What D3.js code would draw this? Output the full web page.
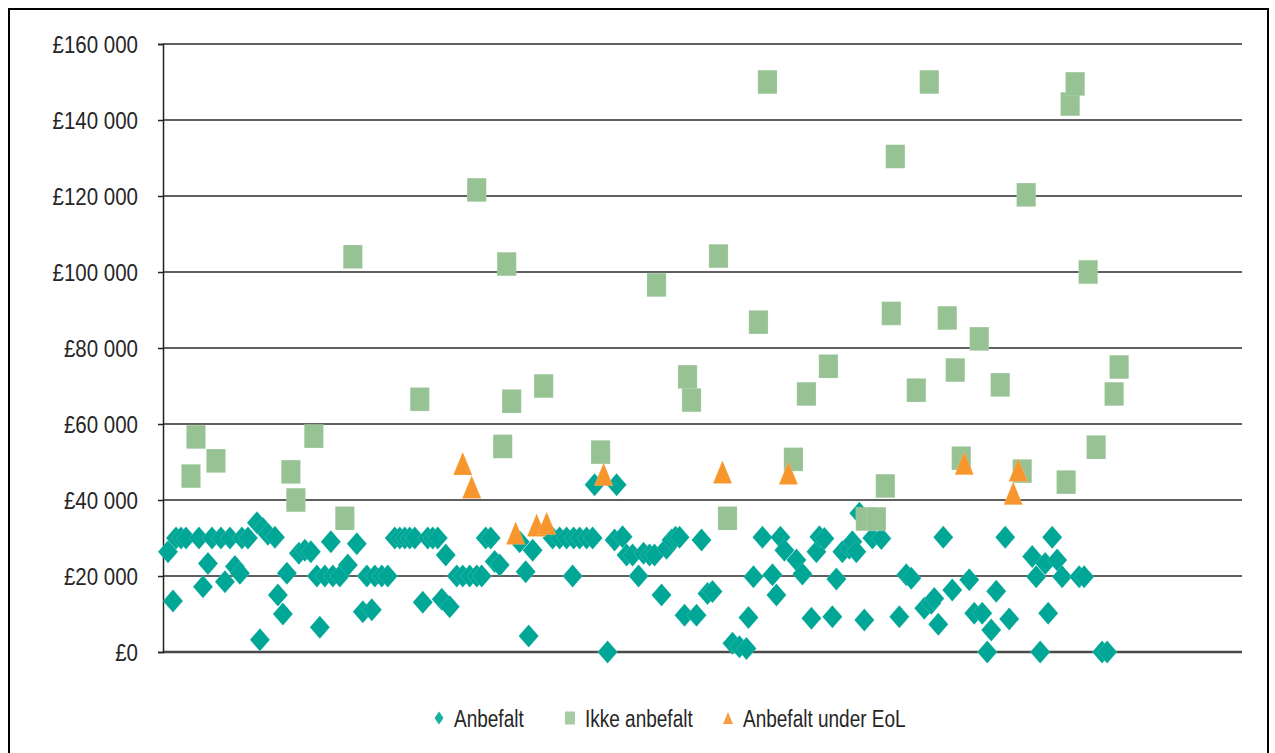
<!DOCTYPE html>
<html>
<head>
<meta charset="utf-8">
<script src="https://cdn.jsdelivr.net/npm/d3@7"></script>
<style>
  body { margin: 0; background: #fff; }
  svg { display: block; font-family: "Liberation Sans", Arial, sans-serif; }
</style>
</head>
<body>
<div id="chart"></div>
<script>
// x is the running case number, y the cost per QALY (GBP)
const anbefaltX = [1.0, 2.0, 2.6, 3.6, 4.6, 7.2, 8.0, 9.0, 9.8, 11.6, 12.4, 13.4, 14.4, 15.4, 15.8, 17.0,
  18.8, 19.4, 20.0, 21.0, 22.4, 23.0, 24.0, 24.8, 27.2, 28.4, 29.6, 30.8, 31.4, 32.4, 33.6, 34.0, 35.4,
  37.0, 38.8, 40.0, 40.8, 41.8, 42.4, 43.8, 45.0, 46.4, 47.4, 48.4, 49.4, 50.4, 52.0, 53.0, 54.0, 55.0,
  55.8, 56.6, 57.4, 58.8, 60.0, 61.4, 62.8, 63.8, 64.6, 65.6, 66.4, 67.4, 71.4, 72.6, 73.2, 74.0, 78.0,
  79.4, 80.8, 82.0, 82.2, 83.4, 84.8, 86.0, 86.4, 89.0, 90.4, 90.8, 92.0, 92.8, 94.0, 95.2, 96.2, 97.4,
  98.4, 99.8, 100.8, 101.8, 102.6, 103.4, 104.4, 106.8, 107.8, 109.0, 110.0, 114.0, 115.4, 116.8, 117.2,
  118.2, 120.0, 122.0, 122.8, 123.6, 124.4, 126.8, 128.0, 129.8, 130.8, 131.4, 132.4, 134.0, 134.8,
  136.0, 137.4, 138.0, 138.8, 139.4, 140.4, 142.0, 143.8, 147.4, 148.8, 149.8, 152.4, 153.8, 154.4,
  155.2, 156.2, 158.0, 161.4, 162.4, 164.0, 165.0, 165.8, 166.8, 168.6, 169.4, 174.0, 174.8, 175.6,
  176.6, 177.2, 178.0, 179.0, 180.0, 183.4, 184.4, 188.0, 189.0];
const anbefaltY = [26400, 13400, 30000, 30000, 30000, 30000, 17200, 23300, 30000, 30000, 18500, 30000,
  22500, 20700, 30000, 30000, 34000, 3200, 32500, 31000, 30200, 15000, 10000, 20700, 26000, 26800, 26400,
  20000, 6500, 20000, 29000, 20000, 20000, 22900, 28500, 10600, 20000, 11100, 20000, 20000, 20000, 30000,
  30000, 30000, 30000, 30000, 13100, 30000, 30000, 30000, 13900, 25500, 11900, 20000, 20000, 20000, 20000,
  20000, 30000, 30000, 23800, 22900, 29000, 21100, 4200, 26800, 30000, 30000, 30000, 20000, 30000, 30000,
  30000, 30000, 44000, 0, 29500, 44000, 30300, 25500, 25500, 20000, 26000, 25500, 25500, 15000, 27300,
  29500, 30200, 30200, 9700, 9700, 29500, 15400, 15900, 2300, 1400, 900, 9100, 19800, 30200, 20300, 15000,
  30200, 26800, 24200, 20500, 8900, 26400, 30300, 29900, 9300, 19200, 26400, 27300, 29000, 26400, 36500,
  8400, 30000, 29900, 9300, 20300, 19400, 11500, 12800, 14100, 7300, 30200, 16300, 19000, 10200, 10200,
  0, 5800, 16000, 30200, 8700, 25100, 19800, 0, 23300, 10200, 30200, 24200, 19800, 19800, 19800, 0, 0];

const ikkeX = [5.6, 6.6, 10.6, 25.6, 26.6, 30.2, 36.4, 38.0, 51.4, 62.8, 68.0, 68.8, 69.8, 76.2, 87.6,
  98.8, 105.0, 105.8, 111.2, 113.0, 119.2, 121.0, 126.2, 128.8, 133.2, 140.6, 142.8, 144.6, 145.8, 146.6,
  150.8, 153.4, 157.0, 158.6, 159.8, 163.4, 167.6, 172.0, 172.8, 180.8, 181.6, 182.6, 185.2, 186.8,
  190.4, 191.4];
const ikkeY = [46300, 56600, 50300, 47400, 40000, 56800, 35200, 104000, 66500, 121600, 54100, 102100,
  66000, 70000, 52600, 96600, 72400, 66300, 104200, 35200, 86800, 150000, 50700, 67900, 75200, 35000,
  35000, 43700, 89100, 130400, 68900, 150000, 87900, 74200, 51000, 82400, 70300, 47600, 120300, 44700,
  144200, 149500, 100000, 53900, 67900, 75000];

const eolX = [60.0, 61.8, 70.6, 74.8, 76.8, 88.2, 112.0, 125.2, 160.4, 170.2, 171.2];
const eolY = [49600, 43400, 31300, 33400, 33900, 46800, 47400, 47100, 49700, 41800, 47900];

const seriesNames = ["Anbefalt", "Ikke anbefalt", "Anbefalt under EoL"];
const seriesColors = ["#00a797", "#97c394", "#f7962c"];
const yTicks = [0, 20000, 40000, 60000, 80000, 100000, 120000, 140000, 160000];

const W = 1275, H = 753;
const plot = {left: 163, right: 1242, top: 44, bottom: 652};

const svg = d3.select("#chart").append("svg")
  .attr("width", W)
  .attr("height", H);

// outer frame
svg.append("rect")
  .attr("x", 9).attr("y", 9)
  .attr("width", 1259).attr("height", 760)
  .attr("fill", "none")
  .attr("stroke", "#000")
  .attr("stroke-width", 2);

const x = d3.scaleLinear().domain([0, 216]).range([plot.left, plot.right]);
const y = d3.scaleLinear().domain([0, 160000]).range([plot.bottom, plot.top]);

const locale = d3.formatLocale({decimal: ",", thousands: " ", grouping: [3], currency: ["£", ""]});
const fmt = d => "£" + locale.format(",.0f")(d);

// gridlines
svg.append("g")
  .selectAll("line")
  .data(yTicks.filter(d => d > 0))
  .join("line")
    .attr("x1", plot.left).attr("x2", plot.right)
    .attr("y1", d => y(d)).attr("y2", d => y(d))
    .attr("stroke", "#2a2a2a")
    .attr("stroke-width", 1.5);

// bottom axis line
svg.append("line")
  .attr("x1", plot.left).attr("x2", plot.right)
  .attr("y1", y(0)).attr("y2", y(0))
  .attr("stroke", "#4a4a4a")
  .attr("stroke-width", 2.5);

// y axis
const yAxis = svg.append("g")
  .attr("transform", `translate(${plot.left},0)`)
  .call(d3.axisLeft(y).tickValues(yTicks).tickSize(5).tickFormat(""));
yAxis.select(".domain").attr("stroke", "#222").attr("stroke-width", 1.5);
yAxis.selectAll(".tick line").attr("stroke", "#222").attr("stroke-width", 1.5);

// tick labels, slightly stretched vertically like the source
svg.append("g")
  .selectAll("text")
  .data(yTicks)
  .join("text")
    .attr("transform", d => `translate(138,${y(d)}) scale(1,1.2)`)
    .attr("text-anchor", "end")
    .attr("dy", "0.36em")
    .attr("font-size", 20.5)
    .attr("fill", "#262626")
    .text(fmt);

// marker shapes (stretched vertically)
const shapes = [
  (w, h) => `M0,${-h}L${w},0L0,${h}L${-w},0Z`,
  (w, h) => `M${-w},${-h}H${w}V${h}H${-w}Z`,
  (w, h) => `M0,${-h}L${w},${h}H${-w}Z`
];

const sets = [
  {xs: anbefaltX, ys: anbefaltY, size: [10, 11.5]},
  {xs: ikkeX, ys: ikkeY, size: [9.6, 11.8]},
  {xs: eolX, ys: eolY, size: [9.5, 11.5]}
];

sets.forEach((s, i) => {
  const pts = s.xs.map((v, k) => ({x: v, y: s.ys[k]}));
  svg.append("g")
    .selectAll("path")
    .data(pts)
    .join("path")
      .attr("transform", d => `translate(${x(d.x)},${y(d.y)})`)
      .attr("d", shapes[i](s.size[0], s.size[1]))
      .attr("fill", seriesColors[i])
      .attr("stroke", "#ffffff")
      .attr("stroke-opacity", 0.25)
      .attr("stroke-width", 0.6);
});

// legend
const legendPos = [{mx: 439, tx: 454}, {mx: 570, tx: 585}, {mx: 728, tx: 743}];
const legendSize = [[4.5, 6.5], [5, 6.5], [5, 6]];
const legend = svg.append("g");
seriesNames.forEach((name, i) => {
  legend.append("path")
    .attr("transform", `translate(${legendPos[i].mx},718)`)
    .attr("d", shapes[i](legendSize[i][0], legendSize[i][1]))
    .attr("fill", seriesColors[i])
    .attr("opacity", i === 1 ? 0.85 : 0.9);
  legend.append("text")
    .attr("transform", `translate(${legendPos[i].tx},718) scale(1,1.28)`)
    .attr("dy", "0.36em")
    .attr("font-size", 19)
    .attr("fill", "#262626")
    .text(name);
});
</script>
</body>
</html>
